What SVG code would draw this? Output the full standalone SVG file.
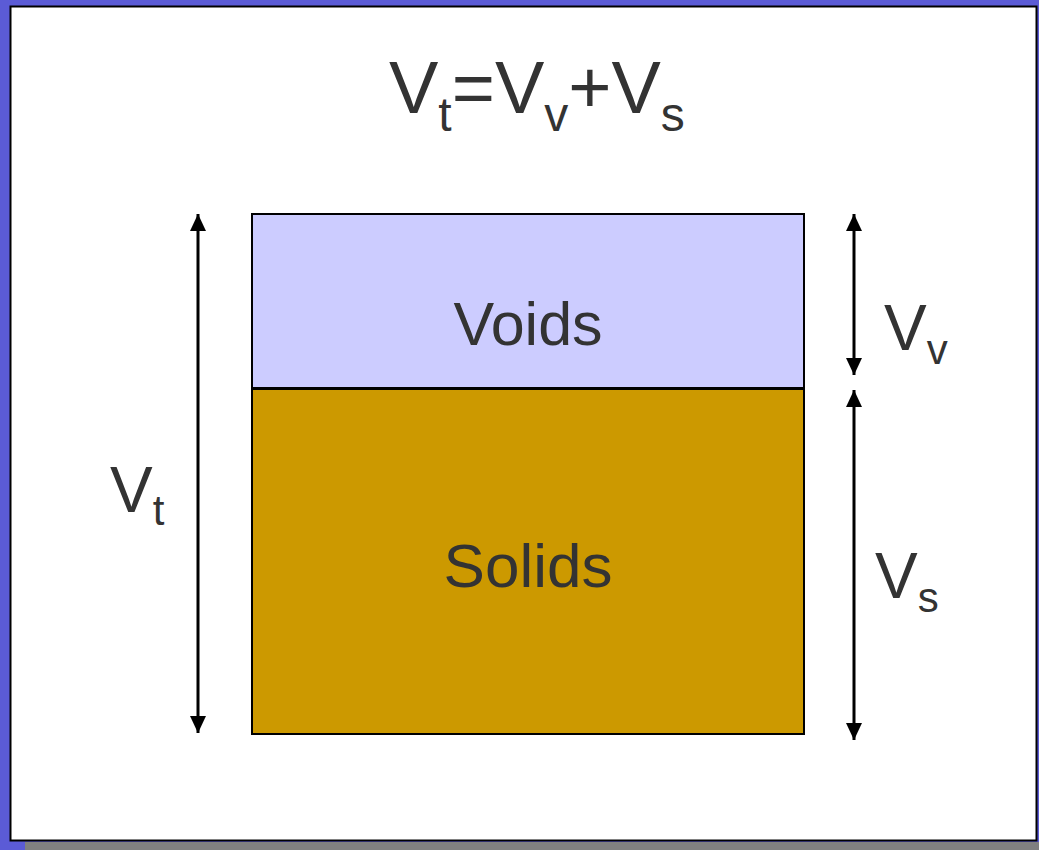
<svg xmlns="http://www.w3.org/2000/svg" width="1039" height="850" viewBox="0 0 1039 850">
<defs>
<marker id="ah" markerWidth="17" markerHeight="16" refX="17" refY="8" orient="auto-start-reverse" markerUnits="userSpaceOnUse" viewBox="0 0 17 16">
<path d="M0,0 L17,8 L0,16 Z" fill="#000"/>
</marker>
<style>
.lbl{font-family:"Liberation Sans",Arial,sans-serif;fill:#333333}
.dim{stroke:#000;stroke-width:3;fill:none}
</style>
</defs>
<rect x="0" y="0" width="1039" height="850" fill="#5b5bd6"/>
<rect x="25" y="842" width="1014" height="8" fill="#808080"/>
<rect x="10.5" y="6.5" width="1026" height="834" fill="#ffffff" stroke="#000" stroke-width="2"/>
<g id="title">
<text class="lbl" x="389" y="113" font-size="74">V<tspan font-size="48" dy="18">t</tspan><tspan dy="-18">=V</tspan><tspan font-size="48" dy="18">v</tspan><tspan dy="-18">+V</tspan><tspan font-size="48" dy="18">s</tspan></text>
</g>
<g id="voids">
<rect x="252" y="214" width="552" height="174" fill="#ccccff" stroke="#000" stroke-width="2"/>
<text class="lbl" x="528" y="345" font-size="61" text-anchor="middle">Voids</text>
</g>
<g id="solids">
<rect x="252" y="389" width="552" height="345" fill="#cc9900" stroke="#000" stroke-width="2"/>
<text class="lbl" x="528" y="587" font-size="62" text-anchor="middle">Solids</text>
</g>
<g id="connectors">
<line class="dim" x1="198" y1="214" x2="198" y2="733" marker-start="url(#ah)" marker-end="url(#ah)"/>
<line class="dim" x1="854" y1="214" x2="854" y2="375" marker-start="url(#ah)" marker-end="url(#ah)"/>
<line class="dim" x1="854" y1="390" x2="854" y2="740" marker-start="url(#ah)" marker-end="url(#ah)"/>
</g>
<g id="label-vt">
<text class="lbl" x="110" y="512" font-size="64">V<tspan font-size="42" dy="13">t</tspan></text>
</g>
<g id="label-vv">
<text class="lbl" x="884" y="350" font-size="64">V<tspan font-size="42" dy="14">v</tspan></text>
</g>
<g id="label-vs">
<text class="lbl" x="875" y="598" font-size="64">V<tspan font-size="42" dy="14">s</tspan></text>
</g>
</svg>
